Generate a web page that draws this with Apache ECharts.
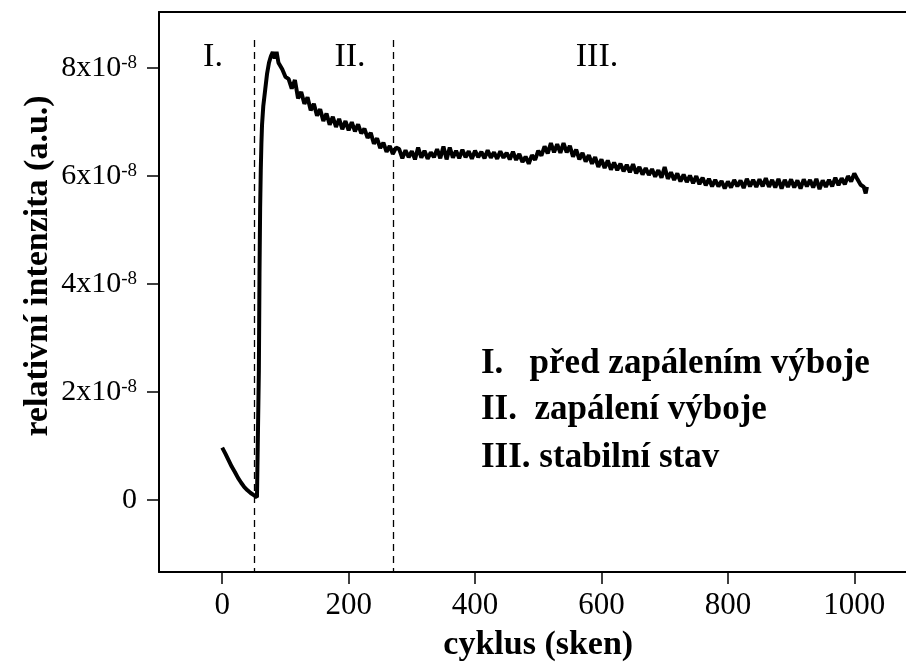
<!DOCTYPE html>
<html>
<head>
<meta charset="utf-8">
<script src="https://cdn.jsdelivr.net/npm/echarts@6/dist/echarts.min.js"></script>
<style>html,body{margin:0;padding:0;background:#fff}#c{width:906px;height:664px}</style>
</head>
<body>
<div id="c"></div>
<script>
// cycle numbers (scan index)
const cycles = [0,5,10,15,20,25,30,35,40,45,50,55,57,58,59,60,61,62,63,65,68,71,74,77,80,83,86,89,92,95,
100,105,110,115,120,125,130,135,140,145,150,155,160,165,170,175,180,185,190,195,
200,205,210,215,220,225,230,235,240,245,250,255,260,265,270,275,
280,285,290,295,300,305,310,315,320,325,330,335,340,345,350,355,360,365,370,375,
380,385,390,395,400,405,410,415,420,425,430,435,440,445,450,455,460,465,470,475,
480,485,490,495,500,505,510,515,520,525,530,535,540,545,550,555,560,565,570,575,
580,585,590,595,600,605,610,615,620,625,630,635,640,645,650,655,660,665,670,675,
680,685,690,695,700,705,710,715,720,725,730,735,740,745,750,755,760,765,770,775,
780,785,790,795,800,805,810,815,820,825,830,835,840,845,850,855,860,865,870,875,
880,885,890,895,900,905,910,915,920,925,930,935,940,945,950,955,960,965,970,975,
980,985,990,995,1000,1005,1010,1015,1018,1020];
// relative intensity in units of 1e-8 (a.u.)
const intensity = [0.97,0.86,0.74,0.62,0.52,0.41,0.32,0.24,0.18,0.13,0.09,0.05,0.03,2.4,4.2,5.4,6.1,6.6,6.95,7.3,7.6,7.9,8.1,8.22,8.3,8.18,8.3,8.1,8.12,7.98,
7.84,7.80,7.62,7.78,7.44,7.56,7.34,7.46,7.22,7.34,7.12,7.24,7.02,7.16,6.95,7.10,6.91,7.06,6.87,7.02,
6.85,7.00,6.83,6.96,6.79,6.88,6.71,6.80,6.60,6.70,6.52,6.62,6.45,6.56,6.41,6.53,
6.50,6.33,6.48,6.35,6.46,6.31,6.53,6.34,6.47,6.32,6.44,6.35,6.50,6.33,6.55,6.31,6.53,6.34,6.47,6.33,
6.49,6.35,6.46,6.32,6.47,6.35,6.45,6.33,6.48,6.34,6.44,6.32,6.46,6.34,6.43,6.31,6.45,6.30,6.41,6.26,
6.36,6.23,6.39,6.30,6.47,6.38,6.55,6.42,6.61,6.44,6.59,6.43,6.61,6.44,6.56,6.36,6.49,6.31,6.43,6.27,
6.39,6.23,6.35,6.17,6.31,6.15,6.29,6.12,6.25,6.11,6.23,6.09,6.21,6.07,6.22,6.05,6.17,6.03,6.15,6.02,
6.13,5.99,6.11,5.97,6.17,5.95,6.07,5.93,6.05,5.90,6.03,5.89,6.01,5.87,6.00,5.85,5.97,5.83,5.95,5.81,
5.93,5.81,5.91,5.77,5.90,5.79,5.93,5.81,5.92,5.78,5.95,5.81,5.93,5.80,5.94,5.81,5.96,5.80,5.93,5.79,
5.95,5.77,5.93,5.80,5.94,5.79,5.92,5.77,5.94,5.81,5.93,5.79,5.95,5.76,5.92,5.80,5.93,5.81,5.97,5.83,
5.96,5.85,6.00,5.90,6.05,5.94,5.84,5.80,5.68,5.80];
const xTicks = [0,200,400,600,800,1000];
const yTicks = [0,2,4,6,8];
const phaseBoundaries = [50, 270];
const boundaryTop = 8.52;
const phaseLabels = ['I.', 'II.', 'III.'];
const legendLines = ['I.   před zapálením výboje', 'II.  zapálení výboje', 'III. stabilní stav'];
const xRange = [-100, 1100];
const yRange = [-1.333, 9.04];

const FONT = '"Liberation Serif", "Times New Roman", serif';
const chart = echarts.init(document.getElementById('c'), null, {renderer: 'canvas'});

const seriesData = cycles.map((c, i) => [c, intensity[i]]);
const markLines = phaseBoundaries.map(b => [{coord: [b, boundaryTop]}, {coord: [b, yRange[0]]}]);

const phaseX = [213, 350, 597];
const legendY = [364, 410, 458];

const graphics = [];
phaseLabels.forEach((t, i) => {
  graphics.push({type: 'text', x: phaseX[i], y: 57, style: {text: t, font: '34px ' + FONT, fill: '#000', textAlign: 'center', textVerticalAlign: 'middle'}});
});
legendLines.forEach((t, i) => {
  graphics.push({type: 'text', x: 481, y: legendY[i], style: {text: t, font: 'bold 35px ' + FONT, fill: '#000', textAlign: 'left', textVerticalAlign: 'middle'}});
});
graphics.push({type: 'text', x: 38, y: 266, rotation: Math.PI / 2,
  style: {text: 'relativní intenzita (a.u.)', font: 'bold 34px ' + FONT, fill: '#000', textAlign: 'center', textVerticalAlign: 'middle'}});

chart.setOption({
  animation: false,
  backgroundColor: '#fff',
  grid: {left: 159, top: 12, width: 758.5, bottom: 92, show: false, outerBoundsMode: 'none', containLabel: false},
  xAxis: [{
    type: 'value', min: xRange[0], max: xRange[1],
    name: 'cyklus (sken)', nameLocation: 'middle', nameGap: 56,
    nameTextStyle: {fontFamily: FONT, fontWeight: 'bold', fontSize: 34, color: '#000'},
    axisLine: {show: true, onZero: false, lineStyle: {color: '#000', width: 2}},
    axisTick: {show: true, inside: false, length: 12, customValues: xTicks, lineStyle: {color: '#000', width: 1.5}},
    axisLabel: {customValues: xTicks, margin: 18, fontFamily: FONT, fontSize: 31, color: '#000', formatter: v => String(v)},
    splitLine: {show: false}
  }, {
    type: 'value', position: 'top', min: xRange[0], max: xRange[1],
    axisLine: {show: true, onZero: false, lineStyle: {color: '#000', width: 2}},
    axisTick: {show: false}, axisLabel: {show: false}, splitLine: {show: false}
  }],
  yAxis: {
    type: 'value', min: yRange[0], max: yRange[1],
    axisLine: {show: true, onZero: false, lineStyle: {color: '#000', width: 2}},
    axisTick: {show: true, inside: false, length: 12, customValues: yTicks, lineStyle: {color: '#000', width: 1.5}},
    axisLabel: {
      customValues: yTicks, margin: 22, color: '#000',
      formatter: v => v === 0 ? '{b|0}' : '{b|' + v + 'x10}{s|-8}',
      rich: {
        b: {fontFamily: FONT, fontSize: 30, color: '#000', verticalAlign: 'bottom'},
        s: {fontFamily: FONT, fontSize: 19, color: '#000', verticalAlign: 'top'}
      }
    },
    splitLine: {show: false}
  },
  series: [{
    type: 'line', data: seriesData, showSymbol: false, symbol: 'none', xAxisIndex: 0,
    lineStyle: {color: '#000', width: 4}, smooth: false,
    markLine: {silent: true, symbol: ['none', 'none'], label: {show: false},
      lineStyle: {color: '#000', width: 1.3, type: [7, 5]}, data: markLines}
  }],
  graphic: graphics
});
</script>
</body>
</html>
